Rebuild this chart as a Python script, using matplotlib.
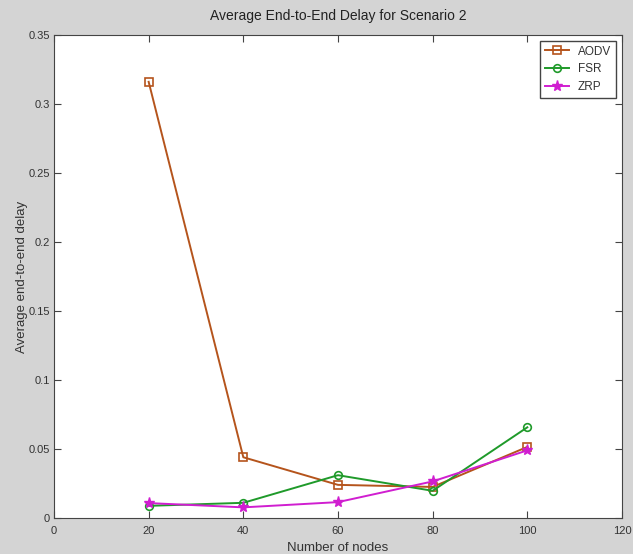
import matplotlib
matplotlib.use('Agg')
import matplotlib.pyplot as plt

nodes = [20, 40, 60, 80, 100]
aodv = [0.316, 0.044, 0.024, 0.0225, 0.0515]
fsr = [0.0088, 0.011, 0.031, 0.0197, 0.0657]
zrp = [0.0108, 0.0077, 0.0115, 0.0265, 0.049]

plt.rcParams['font.family'] = ['Liberation Sans', 'DejaVu Sans']
txt = '#333333'

fig = plt.figure(figsize=(6.33, 5.54), dpi=100, facecolor='#d4d4d4')
ax = fig.add_axes([0.0853, 0.065, 0.8973, 0.872])

ax.plot(nodes, aodv, color='#b5541c', marker='s', markersize=5.5, mfc='none', mew=1.2, lw=1.4, label='AODV')
ax.plot(nodes, fsr, color='#1f9a2a', marker='o', markersize=5.5, mfc='none', mew=1.2, lw=1.4, label='FSR')
ax.plot(nodes, zrp, color='#d01ed0', marker='*', markersize=8, lw=1.4, label='ZRP')

ax.set_xlim(0, 120)
ax.set_ylim(0, 0.35)
ax.set_xticks([0, 20, 40, 60, 80, 100, 120])
ax.set_yticks([0, 0.05, 0.1, 0.15, 0.2, 0.25, 0.3, 0.35])
ax.set_yticklabels(['0', '0.05', '0.1', '0.15', '0.2', '0.25', '0.3', '0.35'])
ax.tick_params(direction='in', top=True, right=True, labelsize=8, length=5,
               color='#444444', labelcolor=txt, pad=3)
ax.tick_params(axis='x', pad=6)
for s in ax.spines.values():
    s.set_color('#444444')

ax.set_xlabel('Number of nodes', fontsize=9.5, color=txt, labelpad=4)
ax.set_ylabel('Average end-to-end delay', fontsize=9.5, color=txt)
ax.yaxis.set_label_coords(-0.045, 0.5)
ax.set_title('Average End-to-End Delay for Scenario 2', fontsize=10, color='#222222', pad=11)

leg = ax.legend(loc='upper right', fontsize=8.5, fancybox=False, framealpha=1,
                borderaxespad=0.5, labelcolor=txt)
leg.get_frame().set_edgecolor('#444444')

fig.savefig('out.png', dpi=100, facecolor=fig.get_facecolor())
